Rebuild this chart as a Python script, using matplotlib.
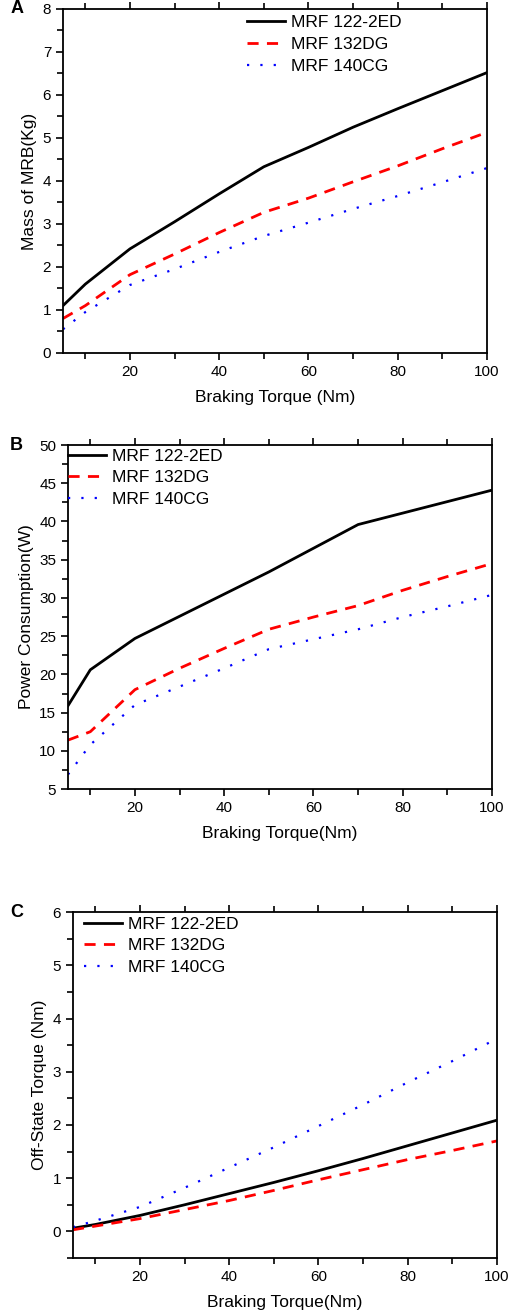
import matplotlib
matplotlib.use('Agg')
import matplotlib.pyplot as plt
from matplotlib.ticker import MultipleLocator

plt.rcParams['font.family'] = ['Liberation Sans', 'DejaVu Sans']

# 數據
torque = [5, 10, 20, 30, 40, 50, 60, 70, 80, 90, 100]
labels = ['MRF 122-2ED', 'MRF 132DG', 'MRF 140CG']

mass_122 = [1.1, 1.6, 2.42, 3.05, 3.7, 4.33, 4.78, 5.25, 5.68, 6.1, 6.52]
mass_132 = [0.8, 1.1, 1.82, 2.3, 2.8, 3.27, 3.6, 3.98, 4.35, 4.75, 5.13]
mass_140 = [0.55, 0.95, 1.58, 1.95, 2.35, 2.72, 3.03, 3.35, 3.65, 3.97, 4.3]

power_122 = [15.9, 20.6, 24.7, 27.6, 30.5, 33.4, 36.5, 39.6, 41.1, 42.6, 44.1]
power_132 = [11.4, 12.5, 18.0, 20.8, 23.4, 25.9, 27.5, 29.0, 31.0, 32.8, 34.5]
power_140 = [6.9, 10.8, 16.0, 18.4, 20.8, 23.3, 24.6, 25.9, 27.5, 28.9, 30.4]

off_122 = [0.06, 0.13, 0.30, 0.50, 0.71, 0.92, 1.14, 1.37, 1.61, 1.85, 2.09]
off_132 = [0.03, 0.10, 0.24, 0.41, 0.58, 0.77, 0.97, 1.16, 1.35, 1.52, 1.70]
off_140 = [0.08, 0.20, 0.46, 0.82, 1.20, 1.58, 1.98, 2.38, 2.80, 3.20, 3.62]

fig = plt.figure(figsize=(5.1, 13.14), dpi=100)

panels = [
    dict(rect=[0.1235, 0.7314, 0.8315, 0.2618], ys=[mass_122, mass_132, mass_140],
         ylim=(0, 8), major=1, minor=0.5, ylabel='Mass of MRB(Kg)',
         xlabel='Braking Torque (Nm)', tag='A', leg=(0.434, 0.982)),
    dict(rect=[0.1333, 0.3995, 0.8314, 0.2618], ys=[power_122, power_132, power_140],
         ylim=(5, 50), major=5, minor=2.5, ylabel='Power Consumption(W)',
         xlabel='Braking Torque(Nm)', tag='B', leg=(0.0, 0.99)),
    dict(rect=[0.1431, 0.0426, 0.8314, 0.2633], ys=[off_122, off_132, off_140],
         ylim=(-0.5, 6), major=1, minor=0.5, ylabel='Off-State Torque (Nm)',
         xlabel='Braking Torque(Nm)', tag='C', leg=(0.026, 0.987)),
]

for p in panels:
    ax = fig.add_axes(p['rect'])
    y1, y2, y3 = p['ys']
    ax.plot(torque, y1, color='black', lw=2, label=labels[0])
    ax.plot(torque, y2, color='red', lw=2, dashes=(4, 3), label=labels[1])
    ax.plot(torque, y3, color='blue', lw=1.6, dashes=(1, 5), label=labels[2])

    ax.set_xlim(5, 100)
    ax.set_ylim(*p['ylim'])
    ax.xaxis.set_major_locator(MultipleLocator(20))
    ax.xaxis.set_minor_locator(MultipleLocator(10))
    ax.yaxis.set_major_locator(MultipleLocator(p['major']))
    ax.yaxis.set_minor_locator(MultipleLocator(p['minor']))
    ax.tick_params(which='both', direction='out', top=True, right=False,
                   labelsize=11, width=1.2)
    ax.tick_params(which='major', length=5)
    ax.tick_params(which='minor', length=4)
    for s in ax.spines.values():
        s.set_linewidth(1.3)

    ax.set_xlabel(p['xlabel'], fontsize=12.5, labelpad=8)
    ax.set_ylabel(p['ylabel'], fontsize=12.5, labelpad=4)

    ax.legend(loc='upper left', bbox_to_anchor=p['leg'], frameon=False,
              fontsize=12.5, handlelength=2.2, handletextpad=0.35,
              labelspacing=0.38, borderpad=0, borderaxespad=0)

    bb = ax.get_position()
    fig.text(0.02, bb.y1, p['tag'], fontsize=13, fontweight='bold',
             ha='left', va='center')

fig.savefig('out.png', dpi=100)
